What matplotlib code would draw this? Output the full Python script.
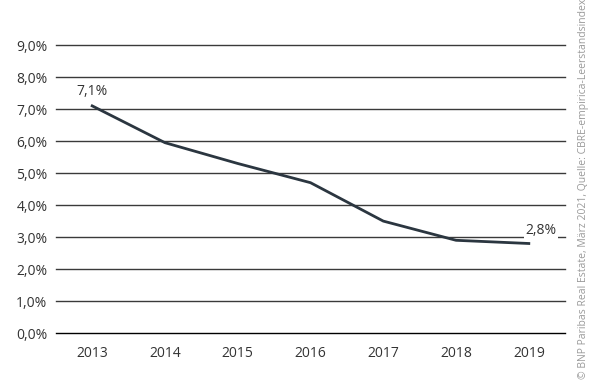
import matplotlib.pyplot as plt
from matplotlib.ticker import FuncFormatter

# Leerstandsquote (CBRE-empirica-Leerstandsindex)
years = ["2013", "2014", "2015", "2016", "2017", "2018", "2019"]
rates = [7.1, 5.95, 5.3, 4.7, 3.5, 2.9, 2.8]
y_ticks = [0, 1, 2, 3, 4, 5, 6, 7, 8, 9]
source = "© BNP Paribas Real Estate, März 2021, Quelle: CBRE-empirica-Leerstandsindex"

plt.rcParams['font.family'] = ['Open Sans', 'DejaVu Sans']

fig = plt.figure(figsize=(6, 3.82), dpi=100)
ax = fig.add_axes([0.093, 0.128, 0.849, 0.754])

x = list(range(len(years)))
for t in y_ticks:
	col = "black" if t == 0 else "#3a3a3a"
	ax.axhline(t, color=col, lw=1.0, zorder=1, clip_on=False)

ax.plot(x, rates, color="#2b3640", lw=2.0, zorder=3)

# Beschriftung erster und letzter Wert
def fmt(v):
	return f"{v:.1f}".replace(".", ",") + "%"

ax.annotate(fmt(rates[0]), (x[0], rates[0]), xytext=(0, 5), textcoords="offset points",
	ha="center", va="bottom", fontsize=10, color="#333333", zorder=4)
ax.annotate(fmt(rates[-1]), (x[-1], rates[-1]), xytext=(9, 4), textcoords="offset points",
	ha="center", va="bottom", fontsize=10, color="#333333", zorder=4,
	bbox=dict(boxstyle="square,pad=0.1", fc="white", ec="none"))

ax.set_xlim(-0.5, len(years) - 0.5)
ax.set_ylim(0, 9)
ax.set_xticks(x)
ax.set_xticklabels(years)
ax.set_yticks(y_ticks)
ax.yaxis.set_major_formatter(FuncFormatter(lambda v, p: fmt(v)))
ax.tick_params(length=0, labelsize=10, colors="#333333", pad=6)
ax.tick_params(axis="x", pad=9)
for s in ax.spines.values():
	s.set_visible(False)

fig.text(0.972, 0.008, source, rotation=90, ha="center", va="bottom",
	fontsize=7.5, color="#9a9a9a")

fig.savefig("out.png", dpi=100)
